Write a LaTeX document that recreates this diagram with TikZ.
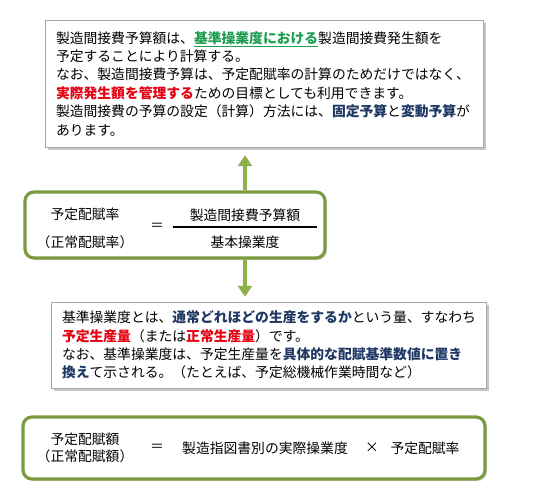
\documentclass[tikz,border=0pt]{standalone}
\usepackage{fontspec}
\setmainfont{Noto Sans CJK JP}
\usepackage{tikz}
\usetikzlibrary{arrows.meta,shadows}
\usepackage{xcolor}
\definecolor{olivebox}{HTML}{7D9B3E}
\definecolor{olivearrow}{HTML}{8DB04A}
\definecolor{keygreen}{HTML}{1E9E50}
\definecolor{keyred}{HTML}{E60012}
\definecolor{keyblue}{HTML}{1F3864}
\newcommand{\kgreen}[1]{{\color{keygreen}\underline{\textbf{#1}}}}
\newcommand{\kred}[1]{{\color{keyred}\textbf{#1}}}
\newcommand{\kblue}[1]{{\color{keyblue}\textbf{#1}}}

\begin{document}
\begin{tikzpicture}[x=1pt, y=-1pt,
  every node/.style={font=\fontsize{13.8}{18.4}\selectfont, inner sep=0pt},
  notebox/.style={draw=gray!70, fill=white, align=left, inner xsep=11pt,
    drop shadow={opacity=0.45, shadow xshift=2.5pt, shadow yshift=-2.5pt}},
  formbox/.style={draw=olivebox, line width=3.2pt, rounded corners=9pt, fill=white,
    drop shadow={opacity=0.3, shadow xshift=2pt, shadow yshift=-2pt}},
  greenarrow/.style={olivearrow, line width=4pt, -{Triangle[width=14pt,length=11pt]}}]
\useasboundingbox (0,0) rectangle (534,499);
\node[notebox, text width=416, minimum height=127] (budget) at (264,83.5) {%
製造間接費予算額は、\kgreen{基準操業度における}製造間接費発生額を\\
予定することにより計算する。\\
なお、製造間接費予算は、予定配賦率の計算のためだけではなく、\\
\kred{実際発生額を管理する}ための目標としても利用できます。\\
製造間接費の予算の設定（計算）方法には、\kblue{固定予算}と\kblue{変動予算}が\\
あります。};
\node[formbox, minimum width=300, minimum height=66] (rate) at (175,225) {};
\node[align=center, font=\fontsize{13.8}{27.5}\selectfont] (ratename) at (85,228.5) {予定配賦率\\（正常配賦率）};
\node (rateeq) at (157,227) {＝};
\node (ratenum) at (245,215) {製造間接費予算額};
\node (rateden) at (245,242) {基本操業度};
\draw[line width=1.6pt] (173,227) -- (317,227);
\node[notebox, text width=413, minimum height=86] (base) at (268.5,345) {%
基準操業度とは、\kblue{通常どれほどの生産をするか}という量、すなわち\\
\kred{予定生産量}（または\kred{正常生産量}）です。\\
なお、基準操業度は、予定生産量を\kblue{具体的な配賦基準数値に置き}\\
\kblue{換え}て示される。（たとえば、予定総機械作業時間など）};
\node[formbox, minimum width=462, minimum height=62] (alloc) at (254,448) {};
\node[align=center, font=\fontsize{13.8}{17}\selectfont] (allocname) at (85,448) {予定配賦額\\（正常配賦額）};
\node (alloceq) at (157,448) {＝};
\node (allocbase) at (265,448) {製造指図書別の実際操業度};
\node (alloctimes) at (372,448) {×};
\node (allocrate) at (425,448) {予定配賦率};
\draw[greenarrow, shorten >=8pt] (rate.north -| ratenum) -- (budget.south -| ratenum);
\draw[greenarrow, shorten >=5pt] (rate.south -| ratenum) -- (base.north -| ratenum);
\end{tikzpicture}
\end{document}
